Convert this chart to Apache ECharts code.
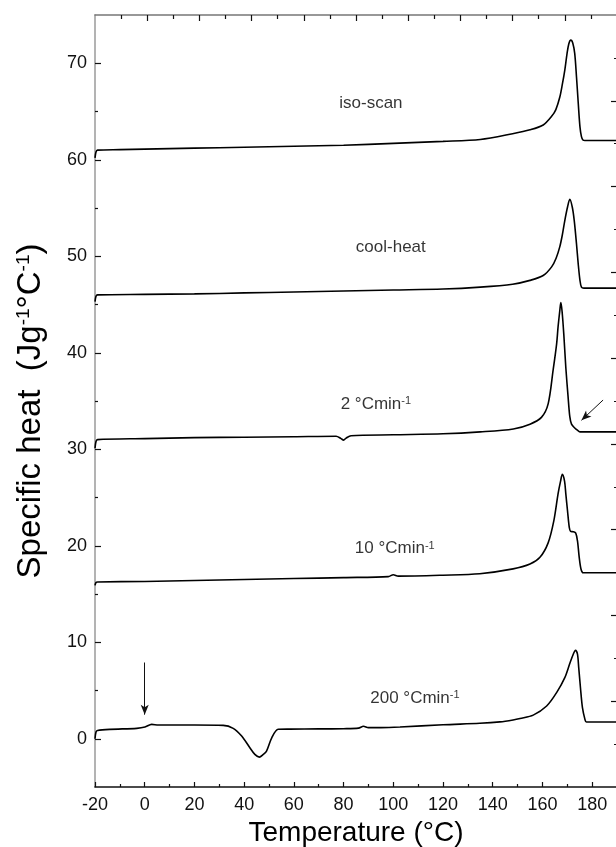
<!DOCTYPE html>
<html>
<head>
<meta charset="utf-8">
<script src="https://cdn.jsdelivr.net/npm/echarts@6/dist/echarts.min.js"></script>
<style>
html,body{margin:0;padding:0;background:#fff;}
#chart{width:616px;height:847px;}
</style>
</head>
<body>
<div id="chart"></div>
<script>
// ---- tick values ----
const xMajor = [-20, 0, 20, 40, 60, 80, 100, 120, 140, 160, 180];
const xMinor = [-10, 10, 30, 50, 70, 90, 110, 130, 150, 170];
const yMajor = [0, 10, 20, 30, 40, 50, 60, 70];
const yMinor = [5, 15, 25, 35, 45, 55, 65];
const topMajor = [2, 4, 6, 8, 10, 12, 14, 16, 18];
const topMinor = [1, 3, 5, 7, 9, 11, 13, 15, 17, 19];
const rightMajor = [2, 4, 6, 8, 10, 12, 14, 16];
const rightMinor = [1, 3, 5, 7, 9, 11, 13, 15, 17];

// ---- curves (temperature °C, specific heat J/g/°C) ----
const isoT = [-20, -19.6, -19, -10, 0, 20, 40, 60, 80, 100, 120, 135, 148, 155, 160.3, 163.7, 165.4, 167, 168, 169, 169.9, 170.6, 171.4, 172.2, 173, 173.7, 174.4, 175.1, 175.7, 176.3, 177.1, 180, 190];
const isoY = [60.2, 60.8, 61.0, 61.05, 61.1, 61.2, 61.3, 61.4, 61.5, 61.7, 61.9, 62.1, 62.7, 63.1, 63.6, 64.5, 65.2, 66.5, 67.8, 69.3, 71.0, 72.0, 72.4, 72.1, 71.0, 68.6, 65.9, 63.4, 62.4, 62.05, 62.0, 62.0, 62.0];

const coolT = [-20, -19.6, -19, 0, 20, 40, 60, 80, 100, 120, 135, 148, 155, 160.3, 163.7, 165.5, 167, 168, 169, 170.1, 171, 172, 172.8, 173.7, 174.4, 175.1, 175.7, 176.7, 190];
const coolY = [45.3, 45.85, 46.0, 46.05, 46.1, 46.2, 46.3, 46.4, 46.5, 46.6, 46.8, 47.1, 47.5, 48.0, 48.9, 49.8, 51.0, 52.2, 53.7, 55.1, 55.9, 55.1, 53.7, 51.3, 49.2, 47.5, 46.8, 46.7, 46.7];

const r2T = [-20, -19.6, -19, 0, 20, 40, 60, 77, 79, 80, 81, 83, 100, 120, 135, 148.3, 155, 159.6, 162.3, 164.3, 165.7, 166.3, 167, 167.4, 167.9, 168.6, 169.4, 170.3, 171, 171.7, 173, 174.2, 175.2, 190];
const r2Y = [30.1, 30.8, 31.0, 31.1, 31.2, 31.25, 31.3, 31.35, 31.1, 30.95, 31.15, 31.4, 31.5, 31.6, 31.8, 32.1, 32.6, 33.3, 34.7, 38.2, 40.9, 42.7, 44.4, 45.2, 44.3, 41.9, 38.5, 35.5, 33.4, 32.6, 32.2, 31.95, 31.8, 31.8];

const r10T = [-20, -19.6, -19, 0, 20, 40, 60, 80, 98, 100, 102, 120, 134.8, 148.2, 155, 159, 162.3, 164.6, 166.3, 167.3, 168, 168.9, 169.4, 170.1, 170.8, 171.3, 172.4, 173.4, 174.1, 174.8, 175.5, 176.4, 190];
const r10Y = [15.9, 16.2, 16.25, 16.3, 16.4, 16.5, 16.6, 16.7, 16.8, 17.0, 16.85, 16.95, 17.1, 17.6, 18.1, 18.8, 20.3, 22.6, 25.4, 26.7, 27.4, 26.7, 25.4, 23.6, 21.9, 21.5, 21.45, 21.3, 20.5, 18.8, 17.6, 17.2, 17.2];

const r200T = [-20, -19.6, -19, -14, -3.2, 0.1, 2.8, 5.5, 20, 31.6, 35.6, 39, 42.3, 44.3, 46.1, 47.7, 49, 51.1, 53.7, 58.4, 70, 80, 86, 88, 90, 95, 102.7, 120, 134.8, 142.9, 148.2, 151, 156.3, 161.7, 165.7, 169, 171, 172.4, 173.3, 174.1, 174.6, 175.3, 176.1, 177.1, 177.7, 190];
const r200Y = [0.0, 0.7, 0.85, 0.97, 1.08, 1.21, 1.49, 1.42, 1.42, 1.39, 1.08, 0.28, -0.93, -1.62, -1.9, -1.62, -1.28, 0.1, 0.98, 1.0, 1.02, 1.04, 1.1, 1.3, 1.15, 1.15, 1.21, 1.45, 1.6, 1.75, 1.95, 2.1, 2.45, 3.39, 4.78, 6.33, 7.79, 8.76, 9.17, 8.76, 7.37, 5.29, 3.22, 2.01, 1.73, 1.73];

// ---- annotations ----
const labelText = ['iso-scan', 'cool-heat', '2 °Cmin', '10 °Cmin', '200 °Cmin'];
const labelSup = ['', '', '-1', '-1', '-1'];
const labelT = [91, 99, 93, 100.6, 108.7];
const labelY = [65.9, 50.9, 34.7, 19.7, 4.2];
const arrowA = [[0, 7.9], [0, 2.5]];
const arrowB = [[184.4, 35.1], [175.7, 33.0]];

const FONT = "'Liberation Sans', Arial, Helvetica, sans-serif";
const chart = echarts.init(document.getElementById('chart'), null, {renderer: 'canvas'});

function pairs(xs, ys) { return xs.map((x, i) => [x, ys[i]]); }
function curve(name, xs, ys) {
  return {
    name: name, type: 'line', xAxisIndex: 0, yAxisIndex: 0,
    data: pairs(xs, ys), showSymbol: false, symbol: 'none',
    smooth: 0.3,
    lineStyle: {color: '#000', width: 1.6}, silent: true, z: 3
  };
}
function tickAxis(base) { return Object.assign({type: 'value', splitLine: {show: false}}, base); }

const option = {
  animation: false,
  backgroundColor: '#fff',
  textStyle: {fontFamily: FONT, color: '#000'},
  grid: {left: 95, top: 15, width: 522, height: 772, containLabel: false, outerBoundsMode: 'none'},
  xAxis: [
    tickAxis({
      min: -20, max: 190, position: 'bottom',
      axisLine: {show: true, onZero: false, lineStyle: {color: '#111', width: 1.5}},
      axisTick: {show: true, inside: true, length: 5, customValues: xMajor, lineStyle: {color: '#111', width: 1.2}},
      axisLabel: {show: true, customValues: xMajor, fontSize: 18, color: '#111', margin: 9, fontFamily: FONT},
      name: 'Temperature (°C)', nameLocation: 'middle', nameGap: 31,
      nameTextStyle: {fontSize: 28, color: '#000', fontFamily: FONT}
    }),
    tickAxis({
      min: -20, max: 190, position: 'bottom',
      axisLine: {show: false, onZero: false},
      axisTick: {show: true, inside: true, length: 3, customValues: xMinor, lineStyle: {color: '#111', width: 1.2}},
      axisLabel: {show: false}
    }),
    tickAxis({
      min: 0, max: 20, position: 'top',
      axisLine: {show: true, onZero: false, lineStyle: {color: '#777', width: 1.5}},
      axisTick: {show: true, inside: true, length: 6, customValues: topMajor, lineStyle: {color: '#111', width: 1.2}},
      axisLabel: {show: false}
    }),
    tickAxis({
      min: 0, max: 20, position: 'top',
      axisLine: {show: false, onZero: false},
      axisTick: {show: true, inside: true, length: 4, customValues: topMinor, lineStyle: {color: '#111', width: 1.2}},
      axisLabel: {show: false}
    })
  ],
  yAxis: [
    tickAxis({
      min: -5, max: 75, position: 'left',
      axisLine: {show: true, onZero: false, lineStyle: {color: '#9a9a9a', width: 1.5}},
      axisTick: {show: true, inside: true, length: 6, customValues: yMajor, lineStyle: {color: '#111', width: 1.2}},
      axisLabel: {show: true, customValues: yMajor, fontSize: 18, color: '#111', margin: 8, fontFamily: FONT},
      name: 'Specific heat  (Jg{s|-1}°C{s|-1})', nameLocation: 'middle', nameGap: 48, nameRotate: 90,
      nameTextStyle: {fontSize: 33, color: '#000', fontFamily: FONT, padding: [0, 20, 0, 0],
        rich: {s: {fontSize: 19, verticalAlign: 'top', color: '#000', fontFamily: FONT}}}
    }),
    tickAxis({
      min: -5, max: 75, position: 'left',
      axisLine: {show: false, onZero: false},
      axisTick: {show: true, inside: true, length: 3, customValues: yMinor, lineStyle: {color: '#111', width: 1.2}},
      axisLabel: {show: false}
    }),
    tickAxis({
      min: 0, max: 18, position: 'right',
      axisLine: {show: true, onZero: false, lineStyle: {color: '#777', width: 1.5}},
      axisTick: {show: true, inside: true, length: 6, customValues: rightMajor, lineStyle: {color: '#111', width: 1.2}},
      axisLabel: {show: false}
    }),
    tickAxis({
      min: 0, max: 18, position: 'right',
      axisLine: {show: false, onZero: false},
      axisTick: {show: true, inside: true, length: 3, customValues: rightMinor, lineStyle: {color: '#111', width: 1.2}},
      axisLabel: {show: false}
    })
  ],
  series: [
    curve('iso-scan', isoT, isoY),
    curve('cool-heat', coolT, coolY),
    curve('2 °Cmin-1', r2T, r2Y),
    curve('10 °Cmin-1', r10T, r10Y),
    curve('200 °Cmin-1', r200T, r200Y),
    {
      name: 'labels', type: 'scatter', xAxisIndex: 0, yAxisIndex: 0,
      symbolSize: 0, silent: true, z: 5,
      data: labelT.map((t, i) => ({value: [t, labelY[i]], name: labelText[i]})),
      label: {
        show: true, position: 'inside', color: '#000', fontSize: 17, fontFamily: FONT,
        formatter: function (p) {
          const s = labelSup[p.dataIndex];
          return labelText[p.dataIndex] + (s ? '{s|' + s + '}' : '');
        },
        rich: {s: {fontSize: 11, verticalAlign: 'top', color: '#000', fontFamily: FONT}}
      }
    },
    {
      name: 'arrows', type: 'line', xAxisIndex: 0, yAxisIndex: 0, data: [], silent: true,
      markLine: {
        silent: true, symbol: ['none', 'arrow'], symbolSize: [6, 10],
        label: {show: false},
        lineStyle: {color: '#111', width: 1, type: 'solid'},
        data: [
          [{coord: arrowA[0]}, {coord: arrowA[1]}],
          [{coord: arrowB[0]}, {coord: arrowB[1]}]
        ]
      }
    }
  ]
};
chart.setOption(option);
</script>
</body>
</html>
